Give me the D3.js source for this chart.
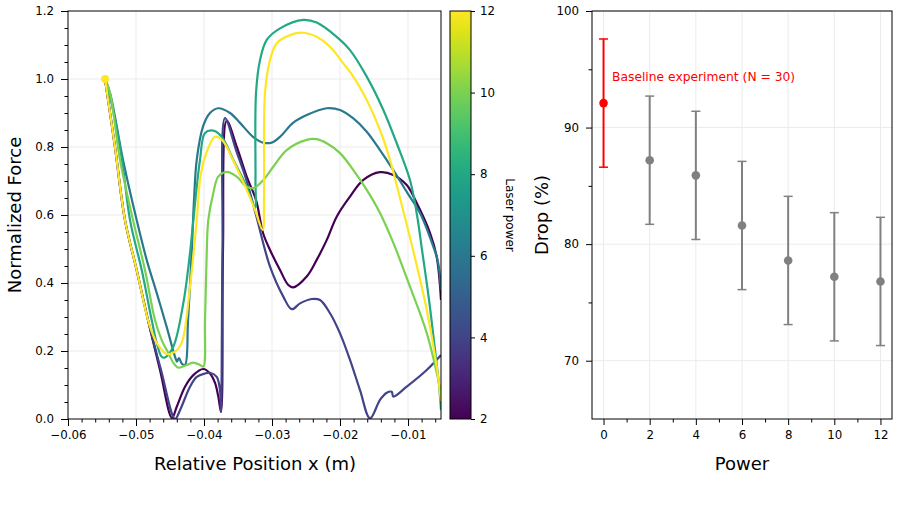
<!DOCTYPE html>
<html>
<head>
<meta charset="utf-8">
<script src="https://cdn.jsdelivr.net/npm/d3@7"></script>
<style>
body { margin: 0; background: #fff; }
svg { font-family: "DejaVu Sans", sans-serif; display: block; }
</style>
</head>
<body>
<svg width="899" height="512"></svg>
<script>
// ---- data ----
const laserPowers = [2, 4, 6, 8, 10, 12];

// [position x (m), normalized force]
const curveP2 = [[-0.05456,1.000],[-0.05309,0.800],[-0.05162,0.585],[-0.04990,0.438],[-0.04824,0.291],[-0.04647,0.144],[-0.04471,0.003],[-0.04401,0.036],[-0.04279,0.095],[-0.04157,0.129],[-0.04010,0.147],[-0.03912,0.134],[-0.03838,0.106],[-0.03790,0.066],[-0.03750,0.021],[-0.03721,0.497],[-0.03666,0.877],[-0.03519,0.801],[-0.03372,0.713],[-0.03235,0.644],[-0.03132,0.547],[-0.03029,0.497],[-0.02882,0.438],[-0.02760,0.394],[-0.02687,0.387],[-0.02490,0.419],[-0.02343,0.468],[-0.02196,0.526],[-0.02049,0.595],[-0.01853,0.654],[-0.01657,0.703],[-0.01412,0.726],[-0.01216,0.718],[-0.01019,0.688],[-0.00872,0.635],[-0.00676,0.547],[-0.00578,0.477],[-0.00515,0.350]];
const curveP4 = [[-0.05456,1.000],[-0.05309,0.800],[-0.05162,0.585],[-0.04990,0.438],[-0.04824,0.291],[-0.04632,0.144],[-0.04426,0.000],[-0.04353,0.026],[-0.04206,0.095],[-0.04107,0.124],[-0.03985,0.134],[-0.03912,0.136],[-0.03813,0.124],[-0.03765,0.085],[-0.03750,0.021],[-0.03728,0.497],[-0.03691,0.885],[-0.03529,0.791],[-0.03372,0.700],[-0.03235,0.600],[-0.03029,0.448],[-0.02834,0.360],[-0.02710,0.323],[-0.02588,0.340],[-0.02416,0.353],[-0.02294,0.350],[-0.02147,0.311],[-0.02000,0.252],[-0.01853,0.174],[-0.01706,0.085],[-0.01559,0.002],[-0.01412,0.056],[-0.01313,0.077],[-0.01240,0.080],[-0.01216,0.066],[-0.01019,0.095],[-0.00725,0.144],[-0.00515,0.188]];
const curveP6 = [[-0.05456,1.000],[-0.05382,0.959],[-0.05191,0.762],[-0.04990,0.585],[-0.04843,0.468],[-0.04696,0.371],[-0.04549,0.271],[-0.04426,0.183],[-0.04397,0.169],[-0.04368,0.179],[-0.04324,0.162],[-0.04279,0.159],[-0.04235,0.291],[-0.04181,0.488],[-0.04147,0.644],[-0.04107,0.762],[-0.04015,0.860],[-0.03912,0.900],[-0.03790,0.914],[-0.03618,0.900],[-0.03471,0.871],[-0.03279,0.830],[-0.03132,0.813],[-0.03004,0.813],[-0.02882,0.830],[-0.02691,0.871],[-0.02490,0.894],[-0.02196,0.914],[-0.02000,0.909],[-0.01804,0.884],[-0.01607,0.845],[-0.01412,0.791],[-0.01216,0.732],[-0.01019,0.668],[-0.00824,0.606],[-0.00628,0.507],[-0.00559,0.462],[-0.00515,0.379]];
const curveP8 = [[-0.05456,1.000],[-0.05338,0.909],[-0.05206,0.762],[-0.05088,0.585],[-0.04916,0.438],[-0.04769,0.291],[-0.04696,0.224],[-0.04622,0.183],[-0.04574,0.181],[-0.04451,0.213],[-0.04304,0.341],[-0.04206,0.488],[-0.04157,0.585],[-0.04059,0.762],[-0.03985,0.841],[-0.03863,0.848],[-0.03740,0.830],[-0.03569,0.762],[-0.03372,0.683],[-0.03250,0.621],[-0.03243,0.703],[-0.03235,0.959],[-0.03176,1.056],[-0.03078,1.115],[-0.02882,1.149],[-0.02540,1.174],[-0.02343,1.166],[-0.02049,1.124],[-0.01853,1.085],[-0.01607,1.007],[-0.01363,0.909],[-0.01166,0.811],[-0.00971,0.703],[-0.00868,0.600],[-0.00794,0.497],[-0.00691,0.350],[-0.00603,0.203],[-0.00544,0.100],[-0.00515,0.026]];
const curveP10 = [[-0.05456,1.000],[-0.05382,0.959],[-0.05235,0.762],[-0.05044,0.585],[-0.04868,0.438],[-0.04721,0.291],[-0.04622,0.232],[-0.04525,0.194],[-0.04451,0.165],[-0.04378,0.151],[-0.04254,0.159],[-0.04157,0.166],[-0.04059,0.159],[-0.04010,0.154],[-0.03985,0.291],[-0.03960,0.488],[-0.03937,0.585],[-0.03863,0.665],[-0.03790,0.713],[-0.03666,0.727],[-0.03519,0.713],[-0.03372,0.683],[-0.03275,0.679],[-0.03128,0.703],[-0.02981,0.742],[-0.02784,0.791],[-0.02490,0.821],[-0.02343,0.823],[-0.02196,0.811],[-0.02000,0.782],[-0.01804,0.732],[-0.01607,0.674],[-0.01412,0.606],[-0.01216,0.518],[-0.00971,0.389],[-0.00725,0.253],[-0.00515,0.079]];
const curveP12 = [[-0.05456,1.000],[-0.05309,0.800],[-0.05162,0.585],[-0.04990,0.438],[-0.04824,0.291],[-0.04769,0.257],[-0.04696,0.224],[-0.04549,0.191],[-0.04426,0.198],[-0.04328,0.224],[-0.04206,0.389],[-0.04107,0.585],[-0.04059,0.703],[-0.03985,0.771],[-0.03838,0.830],[-0.03735,0.821],[-0.03574,0.762],[-0.03372,0.674],[-0.03250,0.615],[-0.03137,0.556],[-0.03118,0.644],[-0.03103,0.959],[-0.03029,1.056],[-0.02931,1.105],[-0.02735,1.129],[-0.02540,1.136],[-0.02343,1.124],[-0.02147,1.095],[-0.01952,1.046],[-0.01804,1.007],[-0.01607,0.938],[-0.01412,0.850],[-0.01265,0.762],[-0.01118,0.650],[-0.00926,0.497],[-0.00725,0.321],[-0.00578,0.154],[-0.00515,0.053]];
const forceCurves = [curveP2, curveP4, curveP6, curveP8, curveP10, curveP12];

const posTicks = [-0.06, -0.05, -0.04, -0.03, -0.02, -0.01];
const forceTicks = [0, 0.2, 0.4, 0.6, 0.8, 1.0, 1.2];
const cbarTicks = [2, 4, 6, 8, 10, 12];

const dropPower = [0, 2, 4, 6, 8, 10, 12];
const dropMean = [92.1, 87.2, 85.9, 81.6, 78.6, 77.2, 76.8];
const dropErr = [5.5, 5.5, 5.5, 5.5, 5.5, 5.5, 5.5];
const powerTicks = [0, 2, 4, 6, 8, 10, 12];
const dropTicks = [70, 80, 90, 100];

const svg = d3.select("svg");
const tickFont = "11.8px";
const labelFont = "18px";
const gridColor = "#ebebeb";

// ---- left panel ----
const x1 = d3.scaleLinear().domain([-0.06, -0.00515]).range([68, 441]);
const y1 = d3.scaleLinear().domain([0, 1.2]).range([419, 11]);
const color = d3.scaleSequential(d3.interpolateViridis).domain([2, 12]);

const left = svg.append("g");

left.append("g").selectAll("line").data(posTicks.slice(1)).join("line")
    .attr("x1", d => x1(d)).attr("x2", d => x1(d))
    .attr("y1", 11).attr("y2", 419)
    .attr("stroke", gridColor).attr("stroke-width", 1);
left.append("g").selectAll("line").data(forceTicks.slice(1, -1)).join("line")
    .attr("x1", 68).attr("x2", 441)
    .attr("y1", d => y1(d)).attr("y2", d => y1(d))
    .attr("stroke", gridColor).attr("stroke-width", 1);

svg.append("clipPath").attr("id", "clipL")
  .append("rect").attr("x", 68).attr("y", 11).attr("width", 373).attr("height", 408);

const line = d3.line()
    .x(d => x1(d[0]))
    .y(d => y1(d[1]))
    .curve(d3.curveCatmullRom.alpha(0.5));

left.append("g").attr("clip-path", "url(#clipL)")
  .selectAll("path").data(forceCurves).join("path")
    .attr("d", line)
    .attr("fill", "none")
    .attr("stroke", (d, i) => color(laserPowers[i]))
    .attr("stroke-width", 2.2)
    .attr("stroke-linejoin", "round");

// start marker of the yellow run
left.append("circle")
    .attr("cx", x1(curveP12[0][0])).attr("cy", y1(curveP12[0][1]))
    .attr("r", 4).attr("fill", color(12));

function styleAxis(g) {
  g.select(".domain").remove();
  g.selectAll("text").attr("font-size", tickFont).attr("font-family", "DejaVu Sans").attr("fill", "#000");
  g.selectAll("line").attr("stroke", "#000");
}

// x axis
left.append("g").attr("transform", "translate(0,419)")
  .call(d3.axisBottom(x1).tickValues(d3.range(-0.06, -0.0051, 0.002)).tickSize(3.5).tickFormat(""))
  .call(styleAxis);
left.append("g").attr("transform", "translate(0,419)")
  .call(d3.axisBottom(x1).tickValues(posTicks).tickSize(7).tickPadding(5).tickFormat(d3.format(".2f")))
  .call(styleAxis);

// y axis
left.append("g").attr("transform", "translate(68,0)")
  .call(d3.axisLeft(y1).tickValues(d3.range(0, 1.201, 0.05)).tickSize(3.5).tickFormat(""))
  .call(styleAxis);
left.append("g").attr("transform", "translate(68,0)")
  .call(d3.axisLeft(y1).tickValues(forceTicks).tickSize(7).tickPadding(7).tickFormat(d3.format(".1f")))
  .call(styleAxis);

left.append("rect")
    .attr("x", 68).attr("y", 11).attr("width", 373).attr("height", 408)
    .attr("fill", "none").attr("stroke", "#000").attr("stroke-width", 1);

left.append("text")
    .attr("x", 255).attr("y", 469.5)
    .attr("font-size", labelFont).attr("text-anchor", "middle")
    .text("Relative Position x (m)");
left.append("text")
    .attr("transform", "translate(21,215) rotate(-90)")
    .attr("font-size", labelFont).attr("text-anchor", "middle")
    .text("Normalized Force");

// ---- colorbar ----
const cb = d3.scaleLinear().domain([2, 12]).range([419, 11]);
const grad = svg.append("defs").append("linearGradient")
    .attr("id", "viridis").attr("x1", 0).attr("y1", 1).attr("x2", 0).attr("y2", 0);
grad.selectAll("stop").data(d3.range(0, 1.0001, 0.05)).join("stop")
    .attr("offset", d => d)
    .attr("stop-color", d => d3.interpolateViridis(d));

svg.append("rect")
    .attr("x", 450).attr("y", 11).attr("width", 21).attr("height", 408)
    .attr("fill", "url(#viridis)").attr("stroke", "#000").attr("stroke-width", 1);

svg.append("g").attr("transform", "translate(471,0)")
  .call(d3.axisRight(cb).tickValues(cbarTicks).tickSize(4).tickPadding(5).tickFormat(d3.format("d")))
  .call(styleAxis);

svg.append("text")
    .attr("transform", "translate(506,215) rotate(90)")
    .attr("font-size", "12px").attr("text-anchor", "middle")
    .text("Laser power");

// ---- right panel ----
const x2 = d3.scaleLinear().domain([-0.5, 12.5]).range([592, 892]);
const y2 = d3.scaleLinear().domain([65, 100]).range([419, 11]);
const right = svg.append("g");

right.append("g").selectAll("line").data(powerTicks).join("line")
    .attr("x1", d => x2(d)).attr("x2", d => x2(d))
    .attr("y1", 11).attr("y2", 419)
    .attr("stroke", gridColor).attr("stroke-width", 1);
right.append("g").selectAll("line").data(dropTicks).join("line")
    .attr("x1", 592).attr("x2", 892)
    .attr("y1", d => y2(d)).attr("y2", d => y2(d))
    .attr("stroke", gridColor).attr("stroke-width", 1);

const bars = right.append("g").selectAll("g").data(dropPower).join("g")
    .attr("stroke", (d, i) => i === 0 ? "#ff0000" : "#808080")
    .attr("fill", (d, i) => i === 0 ? "#ff0000" : "#808080");
bars.append("line")
    .attr("x1", d => x2(d)).attr("x2", d => x2(d))
    .attr("y1", (d, i) => y2(dropMean[i] - dropErr[i]))
    .attr("y2", (d, i) => y2(dropMean[i] + dropErr[i]))
    .attr("stroke-width", 2);
bars.append("line")
    .attr("x1", d => x2(d) - 4.5).attr("x2", d => x2(d) + 4.5)
    .attr("y1", (d, i) => y2(dropMean[i] + dropErr[i]))
    .attr("y2", (d, i) => y2(dropMean[i] + dropErr[i]))
    .attr("stroke-width", 1.5);
bars.append("line")
    .attr("x1", d => x2(d) - 4.5).attr("x2", d => x2(d) + 4.5)
    .attr("y1", (d, i) => y2(dropMean[i] - dropErr[i]))
    .attr("y2", (d, i) => y2(dropMean[i] - dropErr[i]))
    .attr("stroke-width", 1.5);
bars.append("circle")
    .attr("cx", d => x2(d))
    .attr("cy", (d, i) => y2(dropMean[i]))
    .attr("r", 4.3).attr("stroke", "none");

right.append("text")
    .attr("x", 612).attr("y", 81)
    .attr("font-size", "12.3px").attr("fill", "#ff0000")
    .text("Baseline experiment (N = 30)");

right.append("g").attr("transform", "translate(0,419)")
  .call(d3.axisBottom(x2).tickValues(d3.range(1, 12, 2)).tickSize(3.5).tickFormat(""))
  .call(styleAxis);
right.append("g").attr("transform", "translate(0,419)")
  .call(d3.axisBottom(x2).tickValues(powerTicks).tickSize(6).tickPadding(6).tickFormat(d3.format("d")))
  .call(styleAxis);
right.append("g").attr("transform", "translate(592,0)")
  .call(d3.axisLeft(y2).tickValues([75, 85, 95]).tickSize(3.5).tickFormat(""))
  .call(styleAxis);
right.append("g").attr("transform", "translate(592,0)")
  .call(d3.axisLeft(y2).tickValues(dropTicks).tickSize(6).tickPadding(7).tickFormat(d3.format("d")))
  .call(styleAxis);

right.append("rect")
    .attr("x", 592).attr("y", 11).attr("width", 300).attr("height", 408)
    .attr("fill", "none").attr("stroke", "#000").attr("stroke-width", 1);

right.append("text")
    .attr("x", 742).attr("y", 469.5)
    .attr("font-size", labelFont).attr("text-anchor", "middle")
    .text("Power");
right.append("text")
    .attr("transform", "translate(548,215) rotate(-90)")
    .attr("font-size", labelFont).attr("text-anchor", "middle")
    .text("Drop (%)");
</script>
</body>
</html>
